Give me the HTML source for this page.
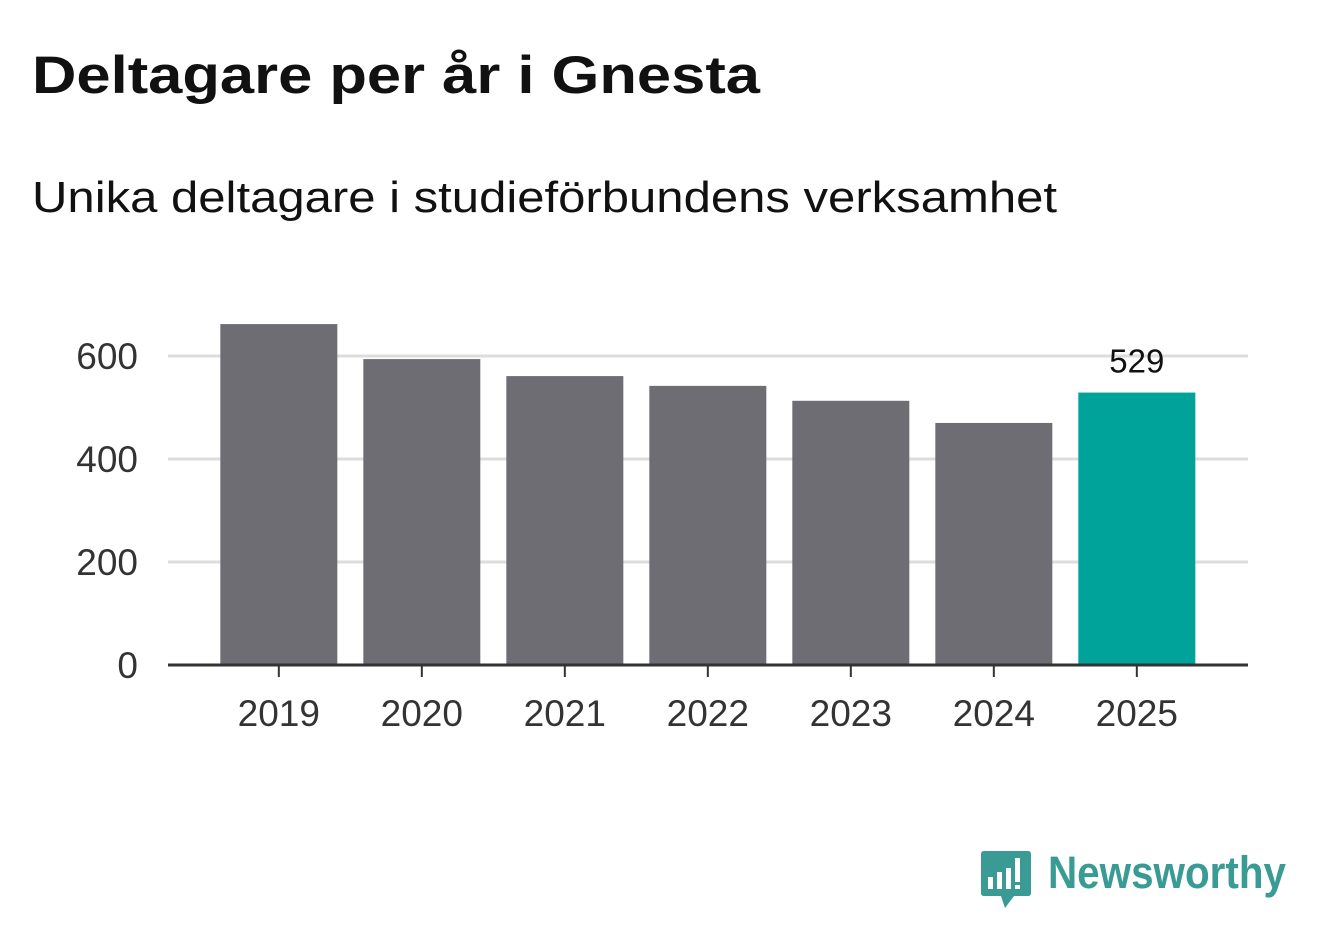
<!DOCTYPE html>
<html><head><meta charset="utf-8"><style>
body{margin:0;background:#fff;width:1322px;height:939px;overflow:hidden;font-family:"Liberation Sans",sans-serif}
</style></head><body>
<svg width="1322" height="939">
<text x="32" y="93" font-size="53" font-weight="bold" fill="#111" textLength="728" lengthAdjust="spacingAndGlyphs">Deltagare per år i Gnesta</text>
<text x="32" y="212" font-size="44" fill="#111" textLength="1025" lengthAdjust="spacingAndGlyphs">Unika deltagare i studieförbundens verksamhet</text>
<g id="grid"></g>
<g id="bars"></g>
<g id="axis"></g>
<g>
<path d="M984 851 H1028 Q1031 851 1031 854 V893 Q1031 896 1028 896 H1014 L1005 908 L1001 896 H984 Q981 896 981 893 V854 Q981 851 984 851Z" fill="#3a9a94"/>
<rect x="988" y="877" width="5" height="12" fill="#fff"/><rect x="997" y="872" width="5" height="17" fill="#fff"/><rect x="1006" y="868" width="5" height="21" fill="#fff"/><rect x="1015" y="858" width="5" height="24" fill="#fff"/><rect x="1015" y="885" width="5" height="4" fill="#fff"/>
<text x="1048" y="888" font-size="45" font-weight="bold" fill="#3a9a94" textLength="238" lengthAdjust="spacingAndGlyphs">Newsworthy</text>
</g>
</svg>
<script>
const categories=["2019","2020","2021","2022","2023","2024","2025"];
const values=[662,594,561,542,513,470,529];
const yTicks=[0,200,400,600];
const NS="http://www.w3.org/2000/svg";
const x0=168,band=143,barW=117,y0=665,k=309/600;
const xC=i=>x0+band*(i+0.775);
const y=v=>y0-v*k;
function mk(t,a,p){const e=document.createElementNS(NS,t);for(const n in a)e.setAttribute(n,a[n]);p.appendChild(e);return e;}
const g=document.getElementById('grid'),b=document.getElementById('bars'),ax=document.getElementById('axis');
yTicks.forEach(t=>{
 if(t>0){const l=mk('line',{x1:x0,x2:1248,y1:y(t),y2:y(t),stroke:'#ddd','stroke-width':3},g);
 
 }
 const tx=mk('text',{x:138,y:y(t)+13,'font-size':37,fill:'#333','text-anchor':'end'},ax);tx.textContent=t;
 
 
});
values.forEach((v,i)=>{
 const last=i===values.length-1;
 const r=mk('rect',{x:xC(i)-barW/2,y:y(v),width:barW,height:y0-y(v),fill:last?'#00a39a':'#6e6d73'},b);
 
 
 const tk=mk('line',{x1:xC(i),x2:xC(i),y1:y0,y2:y0+12,stroke:'#333','stroke-width':2},ax);
 
 
 const tl=mk('text',{x:xC(i),y:726,'font-size':37,fill:'#333','text-anchor':'middle'},ax);tl.textContent=categories[i];
 
 
 if(last){const vl=mk('text',{x:xC(i),y:y(v)-20,'font-size':33,fill:'#111','text-anchor':'middle'},ax);vl.textContent=v;
 
 }
});
const base=mk('line',{x1:x0,x2:1248,y1:y0,y2:y0,stroke:'#333','stroke-width':3},ax);


</script>
</body></html>
